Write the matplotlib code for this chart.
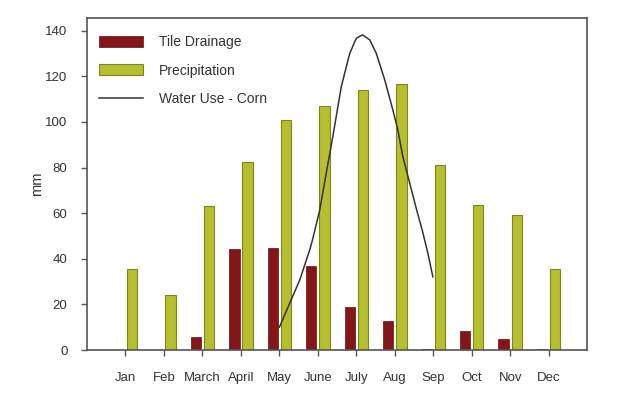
import matplotlib
matplotlib.use("Agg")
import matplotlib.pyplot as plt
import numpy as np
from matplotlib.patches import Patch
from matplotlib.lines import Line2D

months = ["Jan", "Feb", "March", "April", "May", "June", "July", "Aug", "Sep", "Oct", "Nov", "Dec"]
tile_drainage = [0, 0, 5.7, 44.3, 44.7, 36.8, 19.0, 12.9, 0.3, 8.5, 5.0, 0.5]
precipitation = [35.5, 24.0, 63.3, 82.5, 100.9, 107.1, 113.9, 116.5, 81.1, 63.6, 59.2, 35.5]

# Water use (corn) curve, x in month index (Jan = 1)
water_x = [5.0, 5.53, 5.79, 5.86, 6.05, 6.22, 6.39, 6.61, 6.83, 7.0, 7.16, 7.35, 7.52,
           7.74, 7.95, 8.08, 8.21, 8.39, 8.56, 8.73, 8.86, 8.99]
water_y = [10.0, 30.7, 43.9, 48.2, 61.4, 77.6, 93.6, 115.5, 130.1, 136.7, 138.2, 136.0, 130.1,
           118.4, 105.3, 96.5, 84.8, 73.1, 62.0, 51.5, 42.5, 32.1]

plt.rcParams['font.family'] = ['Liberation Sans', 'DejaVu Sans']
text_color = "#333333"
spine_color = "#555555"
tile_color = "#84161a"
precip_color = "#b6bf2e"
precip_edge = "#7d8420"

fig = plt.figure(figsize=(6.3, 3.96), dpi=100)
ax = fig.add_axes([0.138, 0.116, 0.794, 0.838])

x = np.arange(1, len(months) + 1)
w = 0.27
off = 0.17
ax.bar(x - off, tile_drainage, width=w, color=tile_color, edgecolor="#5e0e10", linewidth=0.5, zorder=2)
ax.bar(x + off, precipitation, width=w, color=precip_color, edgecolor=precip_edge, linewidth=0.8, zorder=2)
ax.plot(water_x, water_y, color="#333333", linewidth=1.1, zorder=3)

ax.set_xlim(0, 13)
ax.set_ylim(0, 145.5)
ax.set_xticks(x)
ax.set_xticklabels(months)
ax.set_yticks(np.arange(0, 141, 20))

for s in ax.spines.values():
    s.set_color(spine_color)
    s.set_linewidth(1.2)

ax.tick_params(axis='x', direction='out', length=4, width=1, color=spine_color,
               labelsize=9.5, labelcolor=text_color, pad=12)
ax.tick_params(axis='y', direction='out', length=4, width=1, color=spine_color,
               labelsize=9.5, labelcolor=text_color, pad=10)
ax.set_ylabel("mm", fontsize=10.5, color=text_color, labelpad=1)

handles = [Patch(facecolor=tile_color, edgecolor="#5e0e10", linewidth=0.5),
           Patch(facecolor=precip_color, edgecolor=precip_edge, linewidth=0.8),
           Line2D([0], [0], color="#333333", linewidth=1.1)]
labels = ["Tile Drainage", "Precipitation", "Water Use - Corn"]
leg = ax.legend(handles, labels, loc="upper left", frameon=False, fontsize=10,
                handlelength=3.1, handleheight=0.8, labelspacing=1.05, handletextpad=1.2,
                borderaxespad=0.0, bbox_to_anchor=(0.014, 0.966))
for t in leg.get_texts():
    t.set_color(text_color)

fig.savefig("out.png", dpi=100)
